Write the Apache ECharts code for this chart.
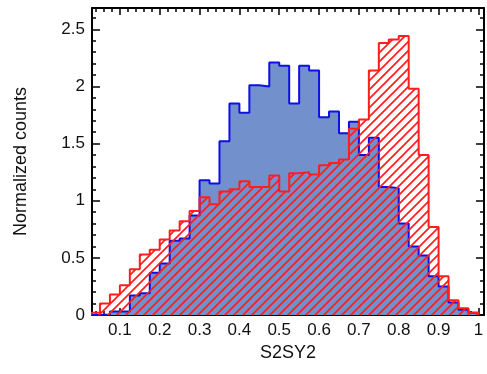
<!DOCTYPE html>
<html>
<head>
<meta charset="utf-8">
<script src="https://cdn.jsdelivr.net/npm/echarts@6/dist/echarts.min.js"></script>
<style>
  html, body { margin: 0; padding: 0; background: #ffffff; }
  #chart { width: 487px; height: 374px; }
</style>
</head>
<body>
<div id="chart"></div>
<script>
// Lower edges of the histogram bins (width 0.025)
const binStarts = [
  0.025, 0.05, 0.075, 0.1, 0.125, 0.15, 0.175, 0.2, 0.225, 0.25,
  0.275, 0.3, 0.325, 0.35, 0.375, 0.4, 0.425, 0.45, 0.475, 0.5,
  0.525, 0.55, 0.575, 0.6, 0.625, 0.65, 0.675, 0.7, 0.725, 0.75,
  0.775, 0.8, 0.825, 0.85, 0.875, 0.9, 0.925, 0.95, 0.975
];
const binWidth = 0.025;

// Filled (blue) distribution
const blueCounts = [
  0.0, 0.005, 0.03, 0.03, 0.17, 0.19, 0.37, 0.45, 0.65, 0.67,
  0.87, 1.18, 1.15, 1.52, 1.85, 1.77, 2.01, 2.00, 2.21, 2.18,
  1.85, 2.18, 2.14, 1.73, 1.78, 1.59, 1.69, 1.40, 1.55, 1.12,
  1.11, 0.80, 0.60, 0.52, 0.34, 0.25, 0.11, 0.045, 0.02
];

// Hatched (red) distribution
const redCounts = [
  0.02, 0.10, 0.18, 0.26, 0.40, 0.53, 0.57, 0.66, 0.74, 0.82,
  0.91, 1.03, 0.97, 1.08, 1.10, 1.17, 1.12, 1.12, 1.22, 1.08,
  1.24, 1.25, 1.23, 1.31, 1.33, 1.36, 1.63, 1.71, 2.14, 2.38,
  2.41, 2.44, 1.98, 1.40, 0.77, 0.34, 0.13, 0.06, 0.02
];

const xTicks = [0.1, 0.2, 0.3, 0.4, 0.5, 0.6, 0.7, 0.8, 0.9, 1];
const yTicks = [0, 0.5, 1, 1.5, 2, 2.5];
const xRange = [0.03, 1.014];
const yRange = [0, 2.686];

// minor tick positions: every 0.02 on x, every 0.1 on y (skipping majors)
const xMinor = [];
for (let k = 2; k <= 50; k++) { if (k % 5 !== 0) xMinor.push(+(k * 0.02).toFixed(2)); }
const yMinor = [];
for (let k = 1; k <= 26; k++) { if (k % 5 !== 0) yMinor.push(+(k * 0.1).toFixed(1)); }

// histogram outline as a stepped polyline
function stepPoints(values) {
  const pts = [[binStarts[0], 0]];
  values.forEach((v, i) => pts.push([binStarts[i], v]));
  pts.push([binStarts[binStarts.length - 1] + binWidth, 0]);
  return pts;
}

// diagonal "/" hatch tile
function hatchTile(color, size, width) {
  const c = document.createElement('canvas');
  c.width = size; c.height = size;
  const g = c.getContext('2d');
  g.strokeStyle = color;
  g.lineWidth = width;
  g.beginPath();
  g.moveTo(-1, size + 1); g.lineTo(size + 1, -1);
  g.moveTo(-2, 2); g.lineTo(2, -2);
  g.moveTo(size - 2, size + 2); g.lineTo(size + 2, size - 2);
  g.stroke();
  return c;
}

const FONT = 'Liberation Sans, Arial, sans-serif';
const BLACK = '#000000';
const RED = '#ff1e1e';
const BLUE = '#0f0fe6';

function xAxisDef(pos, ticks, len, showLine, label) {
  return {
    type: 'value', position: pos, min: xRange[0], max: xRange[1],
    axisLine: { show: showLine, onZero: false, lineStyle: { color: BLACK, width: 2 } },
    axisTick: { show: true, inside: true, length: len, customValues: ticks,
                lineStyle: { color: BLACK, width: 1.5 } },
    axisLabel: label ? { show: true, customValues: xTicks, fontSize: 17, color: '#111',
                         fontFamily: FONT, margin: 7 } : { show: false },
    splitLine: { show: false }
  };
}
function yAxisDef(pos, ticks, len, showLine, label) {
  return {
    type: 'value', position: pos, min: yRange[0], max: yRange[1],
    axisLine: { show: showLine, onZero: false, lineStyle: { color: BLACK, width: 2 } },
    axisTick: { show: true, inside: true, length: len, customValues: ticks,
                lineStyle: { color: BLACK, width: 1.5 } },
    axisLabel: label ? { show: true, customValues: yTicks, fontSize: 17, color: '#111',
                         fontFamily: FONT, margin: 7 } : { show: false },
    splitLine: { show: false }
  };
}

const xMain = xAxisDef('bottom', xTicks, 7, true, true);
xMain.name = 'S2SY2';
xMain.nameLocation = 'middle';
xMain.nameGap = 29;
xMain.nameTextStyle = { fontSize: 18, color: '#111', fontFamily: FONT };

const yMain = yAxisDef('left', yTicks, 8, true, true);
yMain.name = 'Normalized counts';
yMain.nameLocation = 'middle';
yMain.nameGap = 62;
yMain.nameTextStyle = { fontSize: 18, color: '#111', fontFamily: FONT };

const chart = echarts.init(document.getElementById('chart'), null, { renderer: 'canvas' });
chart.setOption({
  animation: false,
  backgroundColor: '#ffffff',
  grid: { left: 92, top: 8, width: 392, height: 307, containLabel: false },
  xAxis: [
    xMain,
    xAxisDef('bottom', xMinor, 4, false, false),
    xAxisDef('top', xTicks, 7, true, false),
    xAxisDef('top', xMinor, 4, false, false)
  ],
  yAxis: [
    yMain,
    yAxisDef('left', yMinor, 4, false, false),
    yAxisDef('right', yTicks, 8, true, false),
    yAxisDef('right', yMinor, 4, false, false)
  ],
  series: [
    {
      type: 'line', xAxisIndex: 0, yAxisIndex: 0, step: 'end',
      data: stepPoints(blueCounts), symbol: 'none', clip: true, z: 2,
      lineStyle: { color: BLUE, width: 2 },
      areaStyle: { color: '#7290cb', opacity: 1 }
    },
    {
      type: 'line', xAxisIndex: 0, yAxisIndex: 0, step: 'end',
      data: stepPoints(redCounts), symbol: 'none', clip: true, z: 3,
      lineStyle: { color: RED, width: 2 },
      areaStyle: { color: { image: hatchTile(RED, 9, 1.7), repeat: 'repeat' }, opacity: 1 }
    }
  ]
});
</script>
</body>
</html>
